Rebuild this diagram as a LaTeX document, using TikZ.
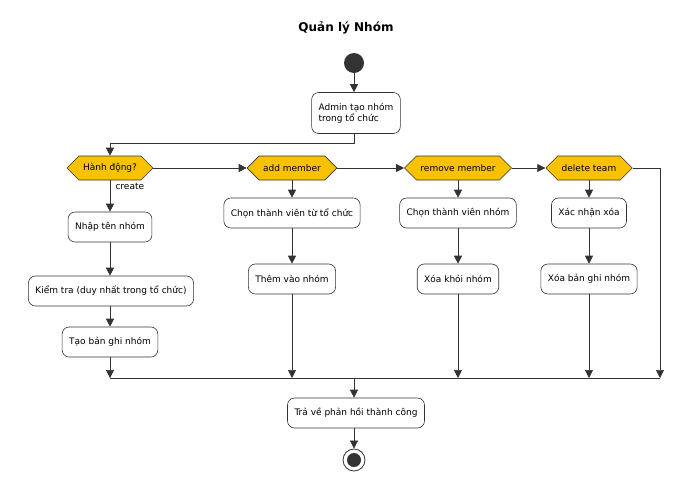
\documentclass[tikz,border=0pt]{standalone}
\usepackage{fontspec}
\setmainfont{DejaVu Sans}
\usetikzlibrary{shapes.symbols,arrows.meta}
\definecolor{ln}{HTML}{333333}
\definecolor{dia}{HTML}{F8C200}
\begin{document}
\begin{tikzpicture}[x=1pt,y=-1pt,
  act/.style={draw=ln,rounded corners=7pt,fill=white,minimum height=30pt,inner xsep=7pt,font=\fontsize{9}{11}\selectfont,line width=0.6pt},
  dec/.style={draw=ln,fill=dia,signal,signal to=east and west,signal pointer angle=90,minimum height=24pt,inner xsep=4pt,font=\fontsize{9}{11}\selectfont,line width=0.6pt},
  arr/.style={-{Triangle[length=8pt,width=8pt]},draw=ln,line width=0.7pt},
  lin/.style={draw=ln,line width=0.7pt}]
\useasboundingbox (0,0) rectangle (693,490);
\node[font=\bfseries\fontsize{12}{14}\selectfont] (title) at (346,28) {Quản lý Nhóm};
\node[circle,fill=ln,minimum size=20pt,inner sep=0] (start) at (354,63) {};
\node[act,align=left,minimum height=41pt] (admin) at (356,113) {Admin tạo nhóm\\trong tổ chức};
\node[dec] (d1) at (110,168) {Hành động?};
\node[dec] (d2) at (292,168) {add member};
\node[dec] (d3) at (458,168) {remove member};
\node[dec] (d4) at (589,168) {delete team};
\node[font=\fontsize{9}{11}\selectfont,anchor=west] (lc) at (112,186) {create};
\node[act] (a1) at (110,227) {Nhập tên nhóm};
\node[act] (a2) at (111,291) {Kiểm tra (duy nhất trong tổ chức)};
\node[act] (a3) at (110,342) {Tạo bản ghi nhóm};
\node[act] (b1) at (292,213) {Chọn thành viên từ tổ chức};
\node[act] (b2) at (292,279) {Thêm vào nhóm};
\node[act] (c1) at (458,213) {Chọn thành viên nhóm};
\node[act] (c2) at (458,279) {Xóa khỏi nhóm};
\node[act] (e1) at (589,213) {Xác nhận xóa};
\node[act] (e2) at (589,279) {Xóa bản ghi nhóm};
\node[act] (ret) at (356,413) {Trả về phản hồi thành công};
\node[circle,draw=ln,line width=0.8pt,minimum size=22pt,inner sep=0] (end) at (354,460) {};
\fill[ln] (end.center) circle (7pt);
\coordinate (m1) at (110,378);
\coordinate (m2) at (292,378);
\coordinate (m3) at (458,378);
\coordinate (m4) at (589,378);
\coordinate (m5) at (660,378);
\coordinate (mc) at (354,378);
\draw[arr] (start) -- (start|-admin.north);
\draw[arr] (start|-admin.south) -- (354,143) -| (d1.north);
\draw[arr] (d1.east) -- (d2.west);
\draw[arr] (d2.east) -- (d3.west);
\draw[arr] (d3.east) -- (d4.west);
\draw[arr] (d4.east) -| (m5);
\draw[arr] (d1.south) -- (a1.north);
\draw[arr] (a1.south) -- (a1.south|-a2.north);
\draw[arr] (a1.south|-a2.south) -- (a3.north);
\draw[arr] (a3.south) -- (m1);
\draw[arr] (d2.south) -- (b1.north);
\draw[arr] (b1.south) -- (b2.north);
\draw[arr] (b2.south) -- (m2);
\draw[arr] (d3.south) -- (c1.north);
\draw[arr] (c1.south) -- (c2.north);
\draw[arr] (c2.south) -- (m3);
\draw[arr] (d4.south) -- (e1.north);
\draw[arr] (e1.south) -- (e2.north);
\draw[arr] (e2.south) -- (m4);
\draw[lin] (m1) -- (m5);
\draw[arr] (mc) -- (mc|-ret.north);
\draw[arr] (mc|-ret.south) -- (end);
\end{tikzpicture}
\end{document}
